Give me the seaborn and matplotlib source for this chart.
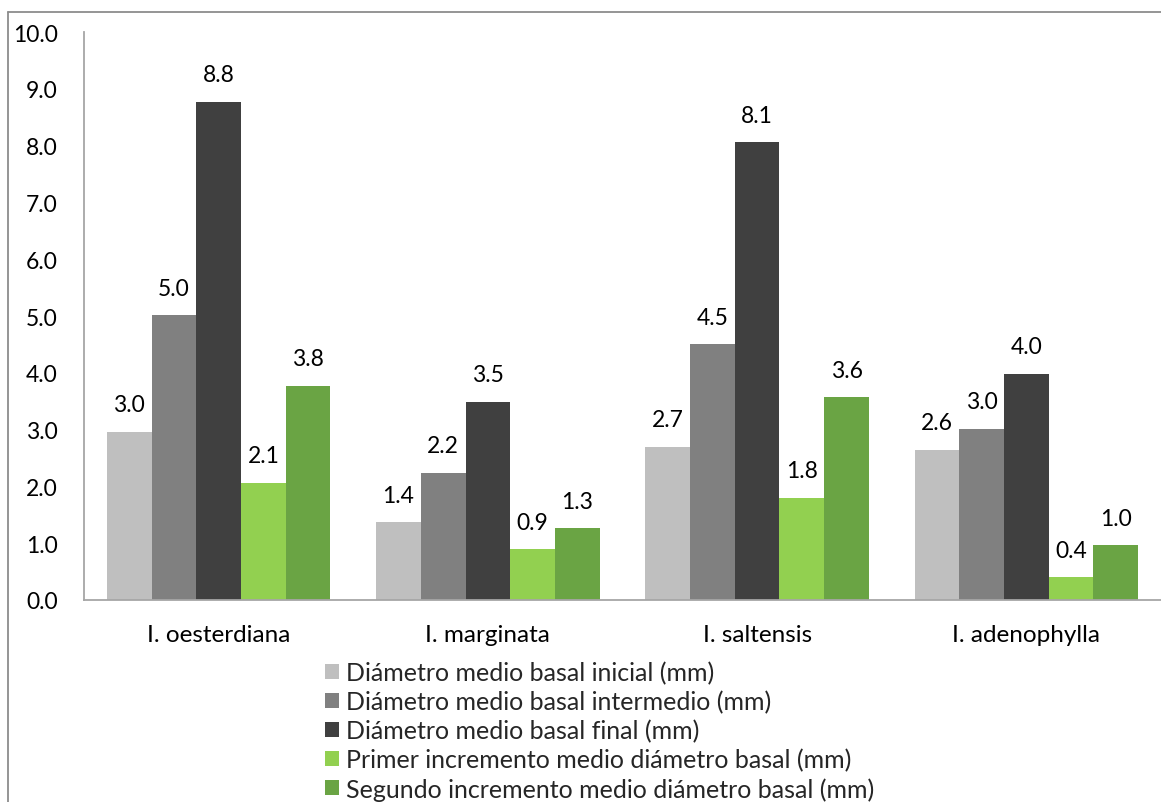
import matplotlib
matplotlib.use("Agg")
import matplotlib.pyplot as plt
import seaborn as sns
import pandas as pd
from matplotlib.lines import Line2D

# Species and measured series (mm)
species = ["I. oesterdiana", "I. marginata", "I. saltensis", "I. adenophylla"]
series = [
    "Diámetro medio basal inicial (mm)",
    "Diámetro medio basal intermedio (mm)",
    "Diámetro medio basal final (mm)",
    "Primer incremento medio diámetro basal (mm)",
    "Segundo incremento medio diámetro basal (mm)",
]
inicial = [2.96, 1.37, 2.70, 2.64]
intermedio = [5.01, 2.24, 4.50, 3.01]
final = [8.77, 3.49, 8.06, 3.98]
primer_inc = [2.06, 0.89, 1.80, 0.40]
segundo_inc = [3.77, 1.26, 3.57, 0.96]
y_ticks = [0.0, 1.0, 2.0, 3.0, 4.0, 5.0, 6.0, 7.0, 8.0, 9.0, 10.0]

colors = ["#BFBFBF", "#808080", "#404040", "#92D050", "#6AA444"]

rows = []
for name, vals in zip(series, [inicial, intermedio, final, primer_inc, segundo_inc]):
    for sp, v in zip(species, vals):
        rows.append({"Especie": sp, "Serie": name, "Valor": v})
df = pd.DataFrame(rows)

sns.set_style("white")
plt.rcParams["font.family"] = ["Lato", "DejaVu Sans"]

fig = plt.figure(figsize=(11.61, 8.03), dpi=100)
ax = fig.add_axes([84 / 1161, 1 - 601 / 803, 1 - 84 / 1161, (601 - 33) / 803])

sns.barplot(
    data=df, x="Especie", y="Valor", hue="Serie",
    order=species, hue_order=series, palette=colors,
    width=0.83, saturation=1, linewidth=0, ax=ax, legend=True,
)

for cont in ax.containers:
    ax.bar_label(cont, fmt="%.1f", padding=12, fontsize=16.5, color="#000000")

ax.set_ylim(0, 10)
ax.set_yticks(y_ticks)
ax.set_yticklabels([f"{t:.1f}" for t in y_ticks])
ax.set_xlim(-0.5, 3.5)
ax.set_xlabel("")
ax.set_ylabel("")
ax.tick_params(axis="y", length=0, pad=19, labelsize=16.5, labelcolor="#000000")
ax.tick_params(axis="x", length=0, pad=17, labelsize=17.5, labelcolor="#000000")
for side in ["top", "right"]:
    ax.spines[side].set_visible(False)
for side in ["left", "bottom"]:
    ax.spines[side].set_color("#A6A6A6")
    ax.spines[side].set_linewidth(1.3)

handles, labels = ax.get_legend_handles_labels()
ax.get_legend().remove()
fig.legend(
    handles, labels, loc="upper left",
    bbox_to_anchor=(325 / 1161, 1 - 662 / 803),
    frameon=False, fontsize=18, handlelength=0.55, handleheight=0.55,
    handletextpad=0.3, labelspacing=0.23, borderaxespad=0, borderpad=0,
)

# outer chart border
fig.add_artist(Line2D([7.5 / 1161, 7.5 / 1161], [0, 1 - 12.5 / 803],
                      transform=fig.transFigure, color="#8C8C8C", linewidth=1.3))
fig.add_artist(Line2D([7.5 / 1161, 1], [1 - 12.5 / 803, 1 - 12.5 / 803],
                      transform=fig.transFigure, color="#8C8C8C", linewidth=1.3))

fig.savefig("out.png", dpi=100)
